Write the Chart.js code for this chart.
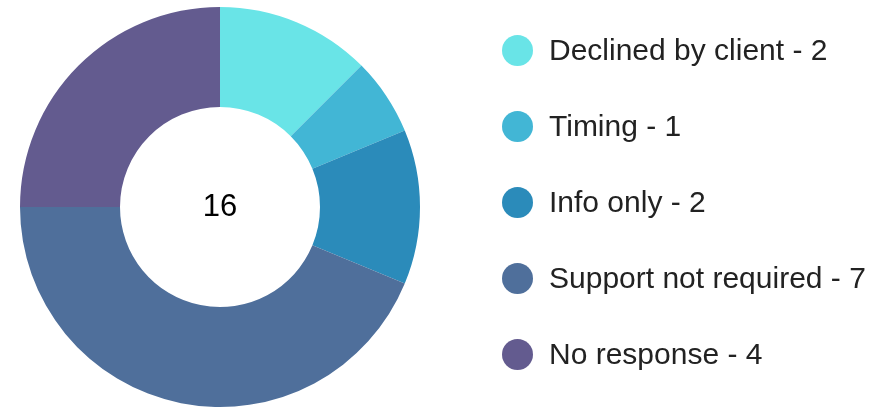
<!DOCTYPE html>
<html>
<head>
    <title>Doughnut with Total</title>
    <script src="https://cdn.jsdelivr.net/npm/chart.js"></script>
    <style>
        body { margin: 0; background: #fff; }
        #wrap { position: relative; width: 887px; height: 408px; }
        #legend {
            position: absolute; left: 502px; top: 12px;
            font-family: "Liberation Sans", Arial, sans-serif;
            font-size: 30px; color: #222;
        }
        .item { display: flex; align-items: center; height: 76px; white-space: nowrap; }
        .dot { width: 31px; height: 31px; border-radius: 50%; margin-right: 16px; flex: none; }
    </style>
</head>
<body>

<div id="wrap">
    <canvas id="reasons_chart" width="887" height="408"></canvas>
    <div id="legend"></div>
</div>

<script>
const categories = ['Declined by client', 'Timing', 'Info only', 'Support not required', 'No response'];
const counts = [2, 1, 2, 7, 4];
const colours = ['#69e4e7', '#42b6d5', '#2b8bba', '#4f6f9b', '#635b8f'];

const total = counts.reduce(function(a, b) { return a + b; }, 0);

// total in the middle of the ring
const centerText = {
    id: 'centerText',
    afterDraw: function(chart) {
        const meta = chart.getDatasetMeta(0);
        if (!meta.data.length) return;
        const arc = meta.data[0];
        const ctx = chart.ctx;
        ctx.save();
        ctx.font = '31px "Liberation Sans", Arial, sans-serif';
        ctx.fillStyle = '#000';
        ctx.textAlign = 'center';
        ctx.textBaseline = 'middle';
        ctx.fillText(String(total), arc.x, arc.y);
        ctx.restore();
    }
};

document.addEventListener("DOMContentLoaded", function() {
    const ctx = document.getElementById('reasons_chart').getContext('2d');

    new Chart(ctx, {
        type: 'doughnut',
        data: {
            labels: categories,
            datasets: [{
                data: counts,
                backgroundColor: colours,
                borderWidth: 0
            }]
        },
        options: {
            responsive: false,
            animation: false,
            cutout: '50%',
            layout: {
                padding: { left: 20, right: 467, top: 7, bottom: 1 }
            },
            plugins: {
                legend: { display: false },
                tooltip: { enabled: false }
            }
        },
        plugins: [centerText]
    });

    const legend = document.getElementById('legend');
    categories.forEach(function(name, i) {
        const row = document.createElement('div');
        row.className = 'item';
        const dot = document.createElement('span');
        dot.className = 'dot';
        dot.style.background = colours[i];
        const txt = document.createElement('span');
        txt.textContent = name + ' - ' + counts[i];
        row.appendChild(dot);
        row.appendChild(txt);
        legend.appendChild(row);
    });
});
</script>

</body>
</html>
